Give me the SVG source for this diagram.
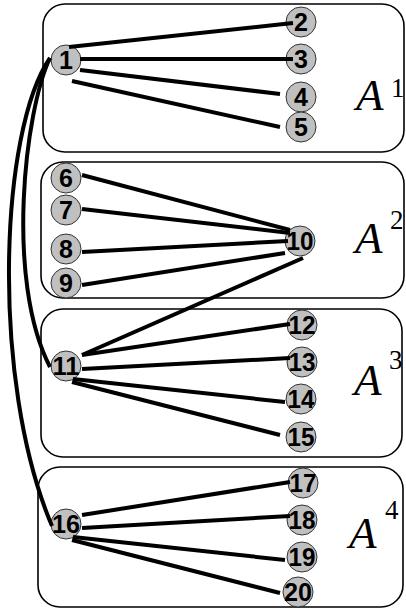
<svg xmlns="http://www.w3.org/2000/svg" width="406" height="610" viewBox="0 0 406 610">
<style>
.box{fill:none;stroke:#000;stroke-width:1.6}
.n circle{fill:#c0c0c0;stroke:#333;stroke-width:1}
.n text{font-family:'Liberation Sans',Arial,sans-serif;font-weight:700;font-size:25px;fill:#000;text-anchor:middle}
.e{stroke:#000;stroke-width:4;fill:none;stroke-linecap:butt}
.A{font-family:'Liberation Serif','Times New Roman',serif;font-style:italic;font-size:45px;fill:#000}
.s{font-family:'Liberation Serif','Times New Roman',serif;font-size:27px;fill:#000}
</style>
<rect width="406" height="610" fill="#fff"/>
<g id="boxes">
<rect id="A1" class="box" x="43" y="4" width="361" height="148" rx="22"/>
<rect id="A2" class="box" x="41" y="162" width="363" height="136" rx="22"/>
<rect id="A3" class="box" x="41" y="309" width="361" height="148" rx="22"/>
<rect id="A4" class="box" x="38" y="467" width="365" height="140" rx="22"/>
</g>
<g id="labels">
<text class="A" x="356" y="110">A</text><text class="s" x="391" y="97">1</text>
<text class="A" x="355" y="253">A</text><text class="s" x="390" y="229">2</text>
<text class="A" x="354" y="395">A</text><text class="s" x="389" y="369">3</text>
<text class="A" x="349" y="548">A</text><text class="s" x="385" y="519">4</text>
</g>
<g id="n1" class="n"><circle cx="66" cy="60" r="15"/><text x="66" y="69">1</text></g>
<g id="n2" class="n"><circle cx="301" cy="22" r="15"/><text x="301" y="31">2</text></g>
<g id="n3" class="n"><circle cx="301" cy="59" r="15"/><text x="301" y="68">3</text></g>
<g id="n4" class="n"><circle cx="301" cy="97" r="15"/><text x="301" y="106">4</text></g>
<g id="n5" class="n"><circle cx="301" cy="127" r="15"/><text x="301" y="136">5</text></g>
<g id="n6" class="n"><circle cx="66" cy="178" r="15"/><text x="66" y="187">6</text></g>
<g id="n7" class="n"><circle cx="66" cy="210" r="15"/><text x="66" y="219">7</text></g>
<g id="n8" class="n"><circle cx="66" cy="249" r="15"/><text x="66" y="258">8</text></g>
<g id="n9" class="n"><circle cx="66" cy="283" r="15"/><text x="66" y="292">9</text></g>
<g id="n10" class="n"><circle cx="300" cy="241" r="15"/><text x="300" y="250" textLength="27" lengthAdjust="spacingAndGlyphs">10</text></g>
<g id="n11" class="n"><circle cx="66" cy="366" r="15"/><text x="66" y="375" textLength="27" lengthAdjust="spacingAndGlyphs">11</text></g>
<g id="n12" class="n"><circle cx="302" cy="325" r="15"/><text x="302" y="334" textLength="27" lengthAdjust="spacingAndGlyphs">12</text></g>
<g id="n13" class="n"><circle cx="302" cy="362" r="15"/><text x="302" y="371" textLength="27" lengthAdjust="spacingAndGlyphs">13</text></g>
<g id="n14" class="n"><circle cx="301" cy="399" r="15"/><text x="301" y="408" textLength="27" lengthAdjust="spacingAndGlyphs">14</text></g>
<g id="n15" class="n"><circle cx="301" cy="437" r="15"/><text x="301" y="446" textLength="27" lengthAdjust="spacingAndGlyphs">15</text></g>
<g id="n16" class="n"><circle cx="66" cy="524" r="15"/><text x="66" y="533" textLength="28" lengthAdjust="spacingAndGlyphs">16</text></g>
<g id="n17" class="n"><circle cx="303" cy="483" r="15"/><text x="303" y="492" textLength="27" lengthAdjust="spacingAndGlyphs">17</text></g>
<g id="n18" class="n"><circle cx="302" cy="520" r="15"/><text x="302" y="529" textLength="27" lengthAdjust="spacingAndGlyphs">18</text></g>
<g id="n19" class="n"><circle cx="302" cy="557" r="15"/><text x="302" y="566" textLength="27" lengthAdjust="spacingAndGlyphs">19</text></g>
<g id="n20" class="n"><circle cx="298" cy="592" r="15"/><text x="298" y="601" textLength="28" lengthAdjust="spacingAndGlyphs">20</text></g>
<g id="connectors" class="e">
<path d="M69,47 L293,23"/>
<path d="M80,59 L293,59"/>
<path d="M80,70 L280,94"/>
<path d="M72,81 L280,127"/>
<path d="M82,175 L290,230"/>
<path d="M82,209 L290,233"/>
<path d="M82,252 L288,241"/>
<path d="M82,285 L285,253"/>
<path d="M303,258 L82,355"/>
<path d="M82,355 L290,324"/>
<path d="M82,369 L290,358"/>
<path d="M73,379 L285,402"/>
<path d="M72,382 L280,435"/>
<path d="M82,515 L290,482"/>
<path d="M82,528 L290,516"/>
<path d="M73,537 L285,560"/>
<path d="M72,540 L280,593"/>
<path d="M50,58 C25,110 5,280 50,367"/>
<path d="M50,58 C0,130 -10,380 52,526"/>
</g>
</svg>
